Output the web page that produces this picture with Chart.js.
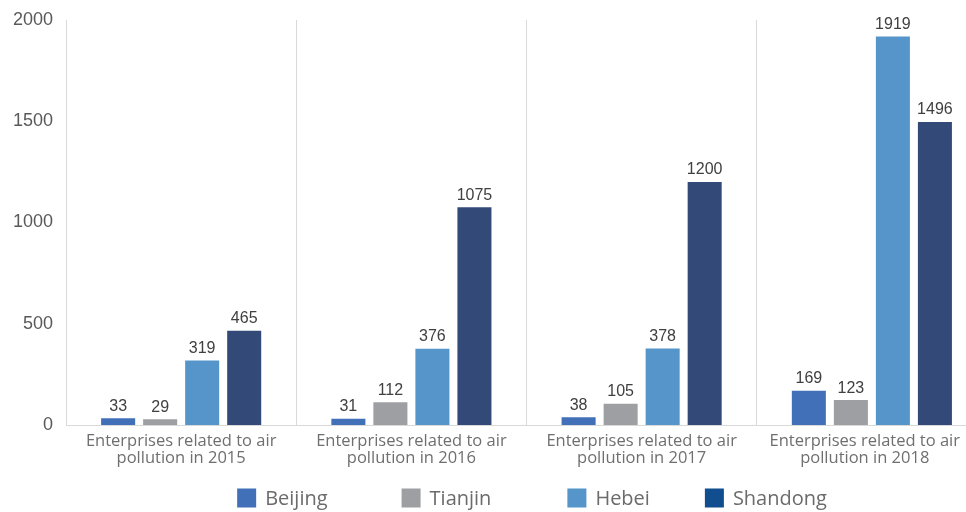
<!DOCTYPE html>
<html>
<head>
<meta charset="utf-8">
<script src="https://cdn.jsdelivr.net/npm/chart.js@4/dist/chart.umd.min.js"></script>
<style>
  html, body { margin: 0; padding: 0; background: #ffffff; overflow: hidden; }
  #wrap { width: 990px; height: 512px; position: relative; }
</style>
</head>
<body>
<div id="wrap"><canvas id="c"></canvas></div>
<script>
const categories = [
  ['Enterprises related to air', 'pollution in 2015'],
  ['Enterprises related to air', 'pollution in 2016'],
  ['Enterprises related to air', 'pollution in 2017'],
  ['Enterprises related to air', 'pollution in 2018']
];
const seriesNames = ['Beijing', 'Tianjin', 'Hebei', 'Shandong'];
const beijing  = [33, 31, 38, 169];
const tianjin  = [29, 112, 105, 123];
const hebei    = [319, 376, 378, 1919];
const shandong = [465, 1075, 1200, 1496];
const yTicks = [0, 500, 1000, 1500, 2000];

const barColors = ['#4170b8', '#9e9fa3', '#5595ca', '#334a78'];
const legendColors = ['#4170b8', '#9e9fa3', '#5595ca', '#114e90'];

const VIEW_W = 966;

const valueLabels = {
  id: 'valueLabels',
  afterDatasetsDraw(chart) {
    const ctx = chart.ctx;
    ctx.save();
    ctx.font = '16px "Liberation Sans", Arial, sans-serif';
    ctx.fillStyle = '#404040';
    ctx.textAlign = 'center';
    ctx.textBaseline = 'bottom';
    chart.data.datasets.forEach((ds, i) => {
      const meta = chart.getDatasetMeta(i);
      meta.data.forEach((bar, j) => {
        ctx.fillText(String(ds.data[j]), bar.x, bar.y - 4);
      });
    });
    ctx.restore();
  }
};

// keep the last category label inside the visible window (as the original does)
const fitLastLabel = {
  id: 'fitLastLabel',
  beforeDraw(chart) {
    const scale = chart.scales.x;
    const items = scale.getLabelItems();
    if (!items.length) return;
    const last = items[items.length - 1];
    const ctx = chart.ctx;
    ctx.save();
    ctx.font = last.font.string;
    const lines = Array.isArray(last.label) ? last.label : [last.label];
    const w = Math.max(...lines.map(l => ctx.measureText(l).width));
    ctx.restore();
    const right = last.options.translation[0] + w / 2;
    const limit = VIEW_W - 6;
    if (right > limit) last.options.translation[0] -= (right - limit);
  }
};

const customLegend = {
  id: 'customLegend',
  afterDraw(chart) {
    const ctx = chart.ctx;
    const box = 19, textGap = 9;
    const gaps = [74, 76, 55];
    ctx.save();
    ctx.font = '20px "Open Sans", sans-serif';
    const widths = chart.data.datasets.map(ds => box + textGap + ctx.measureText(ds.label).width);
    const total = widths.reduce((a, b) => a + b, 0) + gaps.reduce((a, b) => a + b, 0);
    const ca = chart.chartArea;
    let x = (ca.left + ca.right) / 2 + 5.5 - total / 2;
    const cy = chart.height - 14;
    ctx.textBaseline = 'middle';
    ctx.textAlign = 'left';
    chart.data.datasets.forEach((ds, i) => {
      ctx.fillStyle = legendColors[i];
      ctx.fillRect(x, cy - box / 2, box, box);
      ctx.fillStyle = '#6b6b6b';
      ctx.fillText(ds.label, x + box + textGap, cy + 1);
      x += widths[i] + (gaps[i] || 0);
    });
    ctx.restore();
  }
};

const allSeries = [beijing, tianjin, hebei, shandong];

new Chart(document.getElementById('c'), {
  type: 'bar',
  data: {
    labels: categories,
    datasets: allSeries.map((d, i) => ({
      label: seriesNames[i],
      data: d,
      backgroundColor: barColors[i],
      categoryPercentage: 0.73,
      barPercentage: 0.81
    }))
  },
  options: {
    responsive: true,
    maintainAspectRatio: false,
    animation: false,
    layout: { padding: { top: 20, right: 3, left: 8, bottom: 37 } },
    plugins: {
      tooltip: { enabled: false },
      legend: { display: false }
    },
    scales: {
      x: {
        offset: true,
        grid: { display: true, offset: true, color: '#d9d9d9', drawTicks: false, lineWidth: 1 },
        border: { display: true, color: '#d9d9d9' },
        ticks: {
          font: { family: '"Open Sans", sans-serif', size: 16.5, lineHeight: 1.03 },
          color: '#6f6f6f',
          padding: 8,
          maxRotation: 0
        }
      },
      y: {
        min: 0,
        max: 2000,
        afterBuildTicks(axis) { axis.ticks = yTicks.map(v => ({ value: v })); },
        grid: { display: false },
        border: { display: true, color: '#d9d9d9' },
        ticks: {
          font: { family: '"Liberation Sans", Arial, sans-serif', size: 18 },
          color: '#595959',
          padding: 5,
          callback: v => String(v)
        }
      }
    }
  },
  plugins: [valueLabels, fitLastLabel, customLegend]
});
</script>
</body>
</html>
